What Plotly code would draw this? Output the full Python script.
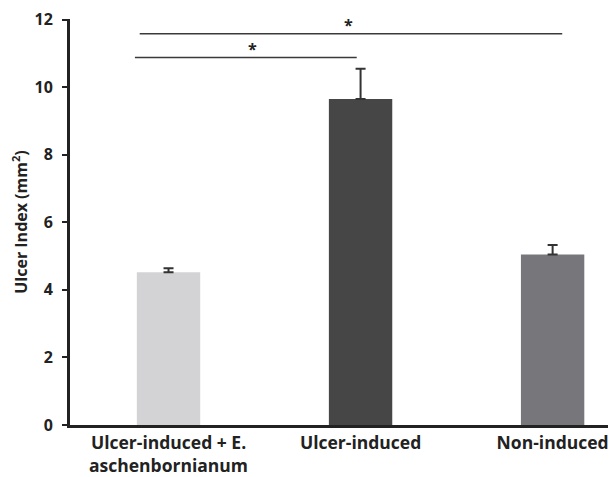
import plotly.graph_objects as go

categories = ["Ulcer-induced + E.<br>aschenbornianum", "Ulcer-induced", "Non-induced"]
values = [4.52, 9.65, 5.05]
errors = [0.12, 0.90, 0.28]
colors = ["#d3d3d5", "#464646", "#77777b"]
y_ticks = [0, 2, 4, 6, 8, 10, 12]

# significance brackets: (x_start, x_end, height, star_x)
sig_x0 = [-0.15, -0.175]
sig_x1 = [2.05, 0.98]
sig_y = [11.58, 10.88]
sig_star_x = [0.935, 0.435]

x = list(range(len(categories)))

fig = go.Figure()
fig.add_trace(go.Bar(
    x=x, y=values, width=0.33,
    marker=dict(color=colors, line=dict(width=0)),
    error_y=dict(type="data", array=errors, arrayminus=[0]*3, symmetric=False,
                 color="#333333", thickness=2, width=5),
))

for x0, x1, yy, sx in zip(sig_x0, sig_x1, sig_y, sig_star_x):
    fig.add_shape(type="line", x0=x0, x1=x1, y0=yy, y1=yy, xref="x", yref="y",
                  line=dict(color="#3a3a3a", width=1.5))
    fig.add_annotation(x=sx, y=yy, text="<b>*</b>", showarrow=False, yshift=9,
                       font=dict(size=16, color="#222222", family="Open Sans"))

fig.update_layout(
    width=608, height=469,
    margin=dict(l=62, r=0, t=11, b=52),
    paper_bgcolor="white", plot_bgcolor="white",
    showlegend=False,
    font=dict(family="Open Sans", color="#222222"),
)
fig.update_xaxes(
    range=[-0.513, 2.33], tickvals=x, ticktext=["<b>%s</b>" % c for c in categories],
    tickfont=dict(size=17.5, color="#222222"), showline=True, linecolor="#222222",
    linewidth=3, ticks="", showgrid=False, zeroline=False, automargin=False,
)
fig.update_yaxes(
    range=[0, 12.02], tickvals=y_ticks, ticktext=["<b>%d</b>" % t for t in y_ticks],
    tickfont=dict(size=16, color="#222222"), showline=True, linecolor="#222222",
    linewidth=3, ticks="outside", ticklen=5, tickwidth=2, tickcolor="#222222",
    ticklabelstandoff=6,
    showgrid=False, zeroline=False, automargin=False,
    title=dict(text="<b>Ulcer Index (mm<sup>2</sup>)</b>", font=dict(size=16, color="#222222"), standoff=12),
)

fig.write_html("out.html")
